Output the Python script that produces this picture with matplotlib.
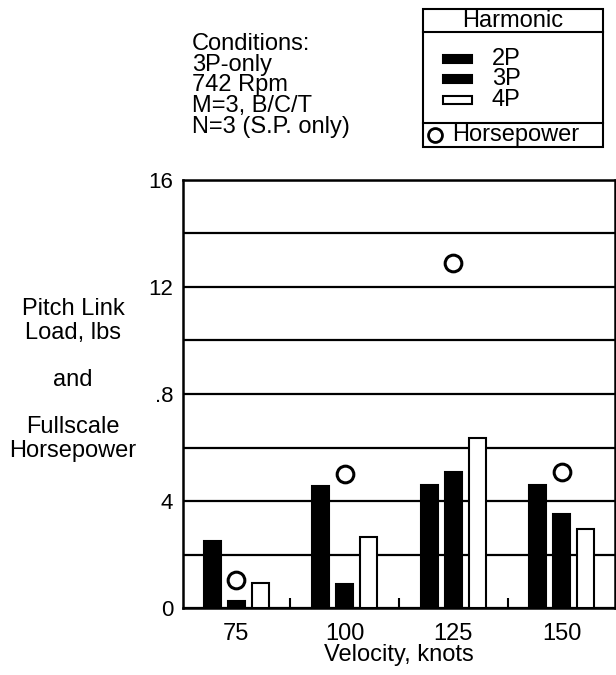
import numpy as np
import matplotlib.pyplot as plt
from matplotlib.patches import Rectangle
from matplotlib.lines import Line2D

plt.rcParams['font.family'] = ['Liberation Sans', 'DejaVu Sans']
plt.rcParams['font.size'] = 17

# values
velocity = ['75', '100', '125', '150']
load_2p = [2.5, 4.55, 4.6, 4.6]
load_3p = [0.25, 0.9, 5.1, 3.5]
load_4p = [0.95, 2.65, 6.35, 2.95]
horsepower = [1.05, 5.0, 12.9, 5.1]
ytick_vals = [0, 2, 4, 6, 8, 10, 12, 14, 16]
ytick_labels = ['0', '', '4', '', '.8', '', '12', '', '16']
conditions = 'Conditions:\n3P-only\n742 Rpm\nM=3, B/C/T\nN=3 (S.P. only)'

W, H = 616, 675


def fx(px):
    return px / W


def fy(py):
    return 1 - py / H


fig = plt.figure(figsize=(W / 100, H / 100), dpi=100)
ax = fig.add_axes([fx(183), fy(608), 432 / W, 428 / H])

x = np.arange(len(velocity))
bw = 0.156
off = 0.22
ax.bar(x - off, load_2p, bw, color='black', edgecolor='black', lw=1.5, zorder=3)
ax.bar(x, load_3p, bw, color='black', edgecolor='black', lw=1.5, zorder=3)
ax.bar(x + off, load_4p, bw, color='white', edgecolor='black', lw=1.5, zorder=3)
ax.plot(x, horsepower, 'o', ms=12, mfc='white', mec='black', mew=2.2, ls='none', zorder=4)

ax.set_xlim(-0.49, 3.49)
ax.set_ylim(0, 16)
ax.set_yticks(ytick_vals)
ax.set_yticklabels(ytick_labels, fontsize=16)
ax.set_xticks(x)
ax.set_xticklabels(velocity)
ax.set_xticks([0.5, 1.5, 2.5], minor=True)
ax.tick_params(axis='both', which='major', length=0)
ax.tick_params(axis='y', pad=7)
ax.tick_params(axis='x', pad=11)
ax.tick_params(axis='x', which='minor', direction='in', length=7, width=1.5)
ax.yaxis.grid(True, color='black', lw=1.6, zorder=0)
ax.set_axisbelow(True)
for s in ax.spines.values():
    s.set_linewidth(1.8)
ax.set_xlabel('Velocity, knots', labelpad=-1)

fig.text(fx(73), fy(380), 'Pitch Link\nLoad, lbs\n\nand\n\nFullscale\nHorsepower',
         ha='center', va='center', multialignment='center', linespacing=1.1)
fig.text(fx(192), fy(33), conditions, ha='left', va='top', linespacing=0.92)

# legend box drawn by hand (has divider lines)
fig.add_artist(Rectangle((fx(423), fy(147)), 180 / W, 138 / H, transform=fig.transFigure,
                         fill=False, ec='black', lw=1.5))
for yy in [32, 123]:
    fig.add_artist(Line2D([fx(423), fx(603)], [fy(yy), fy(yy)], transform=fig.transFigure,
                          color='black', lw=1.5))
fig.text(fx(513), fy(21), 'Harmonic', ha='center', va='center')
legend_items = [('2P', 'black', 59), ('3P', 'black', 79), ('4P', 'white', 100)]
for lab, col, yc in legend_items:
    fig.add_artist(Rectangle((fx(443), fy(yc + 4)), 29 / W, 8 / H, transform=fig.transFigure,
                             fc=col, ec='black', lw=1.5))
    fig.text(fx(492), fy(yc), lab, ha='left', va='center')
fig.add_artist(Line2D([fx(435)], [fy(135)], transform=fig.transFigure, marker='o', ms=10,
                      mfc='white', mec='black', mew=2, ls='none'))
fig.text(fx(452), fy(135), 'Horsepower', ha='left', va='center')

fig.savefig('out.png', dpi=100)
